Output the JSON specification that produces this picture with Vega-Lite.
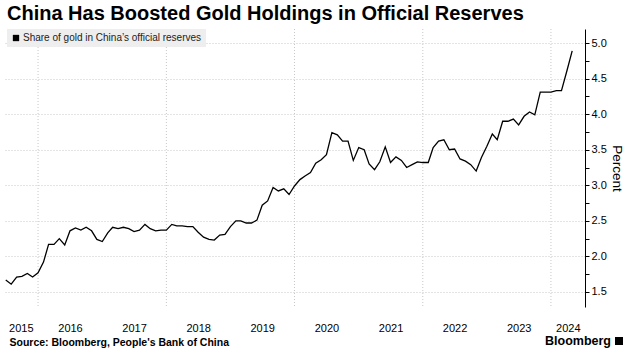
{
  "$schema": "https://vega.github.io/schema/vega-lite/v6.json",
  "width": 581,
  "height": 278,
  "autosize": {"type": "none"},
  "padding": {"left": 4, "top": 29, "right": 46, "bottom": 51},
  "background": "white",
  "title": {
    "text": "China Has Boosted Gold Holdings in Official Reserves",
    "anchor": "start",
    "frame": "group",
    "font": "Liberation Sans",
    "fontSize": 20,
    "fontWeight": "bold",
    "color": "#000000",
    "offset": 5,
    "dx": 3
  },
  "config": {"view": {"stroke": null}, "font": "Liberation Sans"},
  "encoding": {
    "x": {
      "field": "date",
      "type": "temporal",
      "scale": {
        "type": "utc",
        "domain": [
          {"year": 2015, "month": 6, "date": 21, "utc": true},
          {"year": 2024, "month": 7, "date": 13, "utc": true}
        ]
      },
      "axis": {
        "values": [
          {"year": 2015, "month": 9, "date": 25, "utc": true},
          {"year": 2016, "month": 7, "date": 1, "utc": true},
          {"year": 2017, "month": 7, "date": 1, "utc": true},
          {"year": 2018, "month": 7, "date": 1, "utc": true},
          {"year": 2019, "month": 7, "date": 1, "utc": true},
          {"year": 2020, "month": 7, "date": 1, "utc": true},
          {"year": 2021, "month": 7, "date": 1, "utc": true},
          {"year": 2022, "month": 7, "date": 1, "utc": true},
          {"year": 2023, "month": 7, "date": 1, "utc": true},
          {"year": 2024, "month": 4, "date": 6, "utc": true}
        ],
        "format": "%Y",
        "grid": false,
        "ticks": false,
        "domain": false,
        "labelPadding": 15,
        "labelFontSize": 11,
        "labelColor": "#000000",
        "labelFlush": false,
        "labelOverlap": false,
        "title": "Source: Bloomberg, People's Bank of China",
        "titleFontSize": 10.5,
        "titleFontWeight": "bold",
        "titleColor": "#000000",
        "titleAnchor": "start",
        "titleAlign": "left",
        "titleBaseline": "alphabetic",
        "titleX": 5,
        "titleY": 38
      }
    }
  },
  "layer": [
    {
      "data": {"values": [
        {"date": "2016-01-01"}, {"date": "2018-01-01"}, {"date": "2020-01-01"}, {"date": "2022-01-01"}, {"date": "2024-01-01"}
      ]},
      "mark": {"type": "rule", "color": "#c8c8c8", "strokeDash": [1, 2], "strokeWidth": 1}
    },
    {
      "data": {"values": [
        {"date": "2015-07-01", "share": 1.67},
        {"date": "2015-08-01", "share": 1.61},
        {"date": "2015-09-01", "share": 1.71},
        {"date": "2015-10-01", "share": 1.72},
        {"date": "2015-11-01", "share": 1.76},
        {"date": "2015-12-01", "share": 1.71},
        {"date": "2016-01-01", "share": 1.77},
        {"date": "2016-02-01", "share": 1.92},
        {"date": "2016-03-01", "share": 2.17},
        {"date": "2016-04-01", "share": 2.17},
        {"date": "2016-05-01", "share": 2.25},
        {"date": "2016-06-01", "share": 2.16},
        {"date": "2016-07-01", "share": 2.36},
        {"date": "2016-08-01", "share": 2.40},
        {"date": "2016-09-01", "share": 2.37},
        {"date": "2016-10-01", "share": 2.41},
        {"date": "2016-11-01", "share": 2.36},
        {"date": "2016-12-01", "share": 2.24},
        {"date": "2017-01-01", "share": 2.21},
        {"date": "2017-02-01", "share": 2.33},
        {"date": "2017-03-01", "share": 2.41},
        {"date": "2017-04-01", "share": 2.39},
        {"date": "2017-05-01", "share": 2.41},
        {"date": "2017-06-01", "share": 2.39},
        {"date": "2017-07-01", "share": 2.35},
        {"date": "2017-08-01", "share": 2.37},
        {"date": "2017-09-01", "share": 2.45},
        {"date": "2017-10-01", "share": 2.39},
        {"date": "2017-11-01", "share": 2.36},
        {"date": "2017-12-01", "share": 2.37},
        {"date": "2018-01-01", "share": 2.37},
        {"date": "2018-02-01", "share": 2.45},
        {"date": "2018-03-01", "share": 2.43},
        {"date": "2018-04-01", "share": 2.43},
        {"date": "2018-05-01", "share": 2.42},
        {"date": "2018-06-01", "share": 2.42},
        {"date": "2018-07-01", "share": 2.34},
        {"date": "2018-08-01", "share": 2.27},
        {"date": "2018-09-01", "share": 2.24},
        {"date": "2018-10-01", "share": 2.23},
        {"date": "2018-11-01", "share": 2.30},
        {"date": "2018-12-01", "share": 2.31},
        {"date": "2019-01-01", "share": 2.42},
        {"date": "2019-02-01", "share": 2.50},
        {"date": "2019-03-01", "share": 2.50},
        {"date": "2019-04-01", "share": 2.47},
        {"date": "2019-05-01", "share": 2.47},
        {"date": "2019-06-01", "share": 2.51},
        {"date": "2019-07-01", "share": 2.72},
        {"date": "2019-08-01", "share": 2.78},
        {"date": "2019-09-01", "share": 2.97},
        {"date": "2019-10-01", "share": 2.92},
        {"date": "2019-11-01", "share": 2.95},
        {"date": "2019-12-01", "share": 2.87},
        {"date": "2020-01-01", "share": 2.99},
        {"date": "2020-02-01", "share": 3.08},
        {"date": "2020-03-01", "share": 3.13},
        {"date": "2020-04-01", "share": 3.18},
        {"date": "2020-05-01", "share": 3.31},
        {"date": "2020-06-01", "share": 3.36},
        {"date": "2020-07-01", "share": 3.43},
        {"date": "2020-08-01", "share": 3.74},
        {"date": "2020-09-01", "share": 3.71},
        {"date": "2020-10-01", "share": 3.62},
        {"date": "2020-11-01", "share": 3.62},
        {"date": "2020-12-01", "share": 3.35},
        {"date": "2021-01-01", "share": 3.53},
        {"date": "2021-02-01", "share": 3.50},
        {"date": "2021-03-01", "share": 3.30},
        {"date": "2021-04-01", "share": 3.22},
        {"date": "2021-05-01", "share": 3.33},
        {"date": "2021-06-01", "share": 3.54},
        {"date": "2021-07-01", "share": 3.32},
        {"date": "2021-08-01", "share": 3.40},
        {"date": "2021-09-01", "share": 3.35},
        {"date": "2021-10-01", "share": 3.25},
        {"date": "2021-11-01", "share": 3.29},
        {"date": "2021-12-01", "share": 3.33},
        {"date": "2022-01-01", "share": 3.32},
        {"date": "2022-02-01", "share": 3.32},
        {"date": "2022-03-01", "share": 3.53},
        {"date": "2022-04-01", "share": 3.62},
        {"date": "2022-05-01", "share": 3.64},
        {"date": "2022-06-01", "share": 3.50},
        {"date": "2022-07-01", "share": 3.51},
        {"date": "2022-08-01", "share": 3.37},
        {"date": "2022-09-01", "share": 3.34},
        {"date": "2022-10-01", "share": 3.29},
        {"date": "2022-11-01", "share": 3.20},
        {"date": "2022-12-01", "share": 3.39},
        {"date": "2023-01-01", "share": 3.55},
        {"date": "2023-02-01", "share": 3.72},
        {"date": "2023-03-01", "share": 3.64},
        {"date": "2023-04-01", "share": 3.90},
        {"date": "2023-05-01", "share": 3.90},
        {"date": "2023-06-01", "share": 3.93},
        {"date": "2023-07-01", "share": 3.85},
        {"date": "2023-08-01", "share": 3.97},
        {"date": "2023-09-01", "share": 4.03},
        {"date": "2023-10-01", "share": 3.99},
        {"date": "2023-11-01", "share": 4.31},
        {"date": "2023-12-01", "share": 4.31},
        {"date": "2024-01-01", "share": 4.31},
        {"date": "2024-02-01", "share": 4.33},
        {"date": "2024-03-01", "share": 4.33},
        {"date": "2024-04-01", "share": 4.61},
        {"date": "2024-05-01", "share": 4.89}
      ]},
      "mark": {"type": "line", "strokeWidth": 1.3},
      "encoding": {
        "y": {
          "field": "share",
          "type": "quantitative",
          "scale": {"domain": [1.289, 5.197], "nice": false, "zero": false},
          "axis": {
            "orient": "right",
            "values": [1.5, 1.75, 2.0, 2.25, 2.5, 2.75, 3.0, 3.25, 3.5, 3.75, 4.0, 4.25, 4.5, 4.75, 5.0],
            "labelExpr": "datum.value % 0.5 == 0 ? format(datum.value, '.1f') : ''",
            "gridOpacity": {"condition": {"test": "datum.value % 0.5 == 0", "value": 1}, "value": 0},
            "gridColor": "#c8c8c8",
            "gridDash": [1, 2],
            "domainColor": "#000000",
            "tickColor": "#000000",
            "tickSize": 4,
            "labelPadding": 2,
            "labelFontSize": 11,
            "labelColor": "#000000",
            "title": "Percent",
            "titleFontSize": 13.5,
            "titleFontWeight": "normal",
            "titleColor": "#000000",
            "titlePadding": 3
          }
        },
        "color": {
          "datum": "Share of gold in China’s official reserves",
          "type": "nominal",
          "scale": {"range": ["#000000"]},
          "legend": {
            "orient": "none",
            "legendX": 3,
            "legendY": 0,
            "title": null,
            "fillColor": "#eeeeee",
            "padding": 4,
            "symbolType": "square",
            "symbolSize": 40,
            "symbolFillColor": "#000000",
            "symbolStrokeWidth": 0,
            "labelFontSize": 10,
            "labelColor": "#222222",
            "labelOffset": 2,
            "labelLimit": 400
          }
        }
      }
    },
    {
      "data": {"values": [{"brand": "Bloomberg"}]},
      "layer": [
        {
          "mark": {
            "type": "text",
            "align": "right",
            "baseline": "alphabetic",
            "dx": 26,
            "dy": 38,
            "font": "Liberation Sans",
            "fontSize": 12.5,
            "fontWeight": "bold",
            "color": "#000000"
          },
          "encoding": {
            "text": {"field": "brand"},
            "x": {"value": "width"},
            "y": {"value": "height"}
          }
        },
        {
          "mark": {
            "type": "square",
            "filled": true,
            "color": "#000000",
            "opacity": 1,
            "size": 64,
            "xOffset": 34,
            "yOffset": 34
          },
          "encoding": {
            "x": {"value": "width"},
            "y": {"value": "height"}
          }
        }
      ]
    }
  ]
}
